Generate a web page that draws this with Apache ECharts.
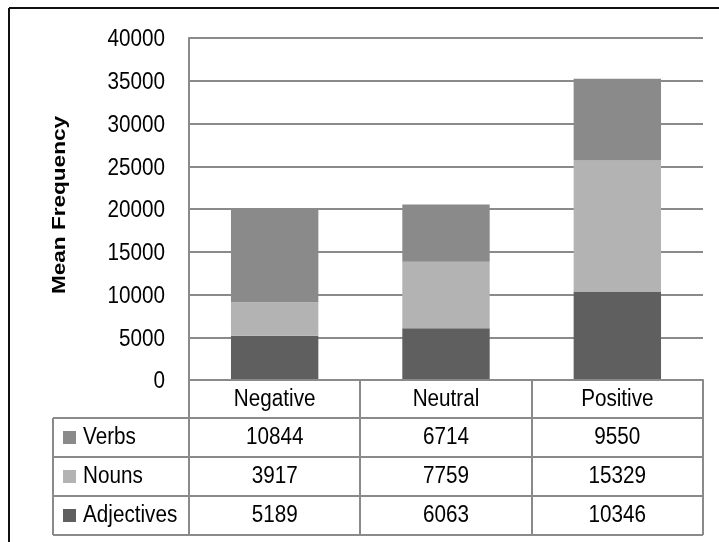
<!DOCTYPE html>
<html><head><meta charset="utf-8">
<script src="https://cdn.jsdelivr.net/npm/echarts@6/dist/echarts.min.js"></script>
<style>html,body{margin:0;padding:0;background:#fff}#c{width:719px;height:542px}</style>
</head><body><div id="c"></div>
<script>
const categories = ['Negative', 'Neutral', 'Positive'];
const verbs = [10844, 6714, 9550];
const nouns = [3917, 7759, 15329];
const adjectives = [5189, 6063, 10346];
const yTicks = [0, 5000, 10000, 15000, 20000, 25000, 30000, 35000, 40000];
const yTitle = 'Mean Frequency';
const tableRows = [
  { name: 'Verbs', values: verbs, color: '#8a8a8a' },
  { name: 'Nouns', values: nouns, color: '#b3b3b3' },
  { name: 'Adjectives', values: adjectives, color: '#5f5f5f' }
];

const FONT = 'Liberation Sans, Arial, sans-serif';
const FS = 23.5, SX = 0.88;
const gridL = 189, gridR = 703, gridT = 38, gridB = 380;
const lineC = '#8a8a8a';
const chart = echarts.init(document.getElementById('c'));

const byName = {};
tableRows.forEach(r => byName[r.name] = r);
const stackOrder = ['Adjectives', 'Nouns', 'Verbs'];

chart.setOption({
  animation: false,
  grid: { left: gridL, right: 719 - gridR, top: gridT, bottom: 542 - gridB, containLabel: false },
  xAxis: {
    type: 'category', data: categories,
    axisLine: { show: true, lineStyle: { color: lineC, width: 2 } },
    axisTick: { show: false }, axisLabel: { show: false }
  },
  yAxis: {
    type: 'value', min: yTicks[0], max: yTicks[yTicks.length - 1], interval: yTicks[1] - yTicks[0],
    axisLine: { show: true, lineStyle: { color: lineC, width: 2 } },
    axisTick: { show: false },
    splitLine: { lineStyle: { color: lineC, width: 2 } },
    axisLabel: { show: false }
  },
  series: stackOrder.map(n => ({
    name: n, type: 'bar', stack: 'total', barWidth: '51%',
    data: byName[n].values, itemStyle: { color: byName[n].color }
  }))
});

const g = [];
function txt(x, y, s, align, extra) {
  g.push(Object.assign({ type: 'text', x, y, scaleX: SX, z: 100,
    style: { text: s, font: FS + 'px ' + FONT, fill: '#000', textAlign: align, textVerticalAlign: 'middle' } }, extra || {}));
}
yTicks.forEach(v => {
  const py = chart.convertToPixel({ yAxisIndex: 0 }, v);
  txt(165, py + 2, String(v), 'right');
});
g.push({ type: 'text', x: 59.5, y: 205, rotation: Math.PI / 2, scaleX: 1.22, z: 100,
  style: { text: yTitle, font: 'bold 18.5px ' + FONT, fill: '#000', textAlign: 'center', textVerticalAlign: 'middle' } });

const colW = (gridR - gridL) / categories.length;
const rowH = 39;
const headTop = gridB, headBot = 418;
const tableLeft = 53;
function hline(x1, x2, y) { g.push({ type: 'line', shape: { x1, y1: y, x2, y2: y }, style: { stroke: lineC, lineWidth: 2 }, z: 100 }); }
function vline(x, y1, y2) { g.push({ type: 'line', shape: { x1: x, y1, x2: x, y2 }, style: { stroke: lineC, lineWidth: 2 }, z: 100 }); }
const tableBot = headBot + rowH * tableRows.length;
hline(gridL, gridR, headTop);
for (let i = 0; i <= tableRows.length; i++) hline(tableLeft, gridR, headBot + rowH * i);
vline(tableLeft, headBot, tableBot);
for (let c = 0; c <= categories.length; c++) vline(Math.round(gridL + colW * c), headTop, tableBot);
categories.forEach((cat) => {
  const cx = chart.convertToPixel({ xAxisIndex: 0 }, cat);
  txt(cx, (headTop + headBot) / 2 + 0.5, cat, 'center');
});
tableRows.forEach((r, i) => {
  const cy = headBot + rowH * i + rowH / 2 + 0.5;
  g.push({ type: 'rect', shape: { x: 63, y: Math.round(cy - 7), width: 13, height: 13 }, style: { fill: r.color } });
  txt(83, cy, r.name, 'left');
  r.values.forEach((v, c) => {
    const cx = chart.convertToPixel({ xAxisIndex: 0 }, categories[c]);
    txt(cx, cy, String(v), 'center');
  });
});
g.push({ type: 'line', shape: { x1: 9, y1: 8, x2: 730, y2: 8 }, style: { stroke: '#111', lineWidth: 2 } });
g.push({ type: 'line', shape: { x1: 9, y1: 8, x2: 9, y2: 550 }, style: { stroke: '#111', lineWidth: 2 } });
chart.setOption({ graphic: g });
</script></body></html>
